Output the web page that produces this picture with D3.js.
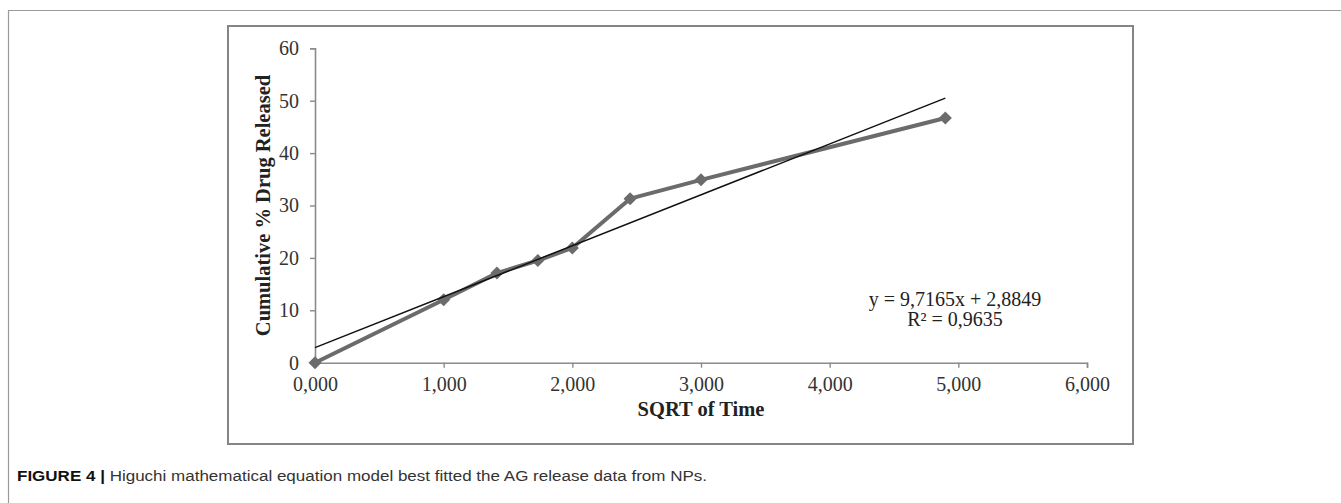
<!DOCTYPE html>
<html>
<head>
<meta charset="utf-8">
<script src="https://cdn.jsdelivr.net/npm/d3@7"></script>
<style>
  html, body { margin: 0; padding: 0; background: #fff; }
  svg { display: block; }
</style>
</head>
<body>
<svg id="chart" width="1341" height="503"></svg>
<script>
// ---- data ----
const sqrtTime = [0, 1.0, 1.414, 1.732, 2.0, 2.449, 3.0, 4.899];
const released = [0, 12.0, 17.1, 19.5, 21.9, 31.3, 34.9, 46.7];
const xTicks = [0, 1, 2, 3, 4, 5, 6];
const yTicks = [0, 10, 20, 30, 40, 50, 60];
const slope = 9.7165;
const intercept = 2.8849;
const equationLines = ["y = 9,7165x + 2,8849", "R² = 0,9635"];
const xTitle = "SQRT of Time";
const yTitle = "Cumulative % Drug Released";
const captionBold = "FIGURE 4 |";
const captionText = " Higuchi mathematical equation model best fitted the AG release data from NPs.";

const svg = d3.select("#chart");

// outer frame (top + left)
svg.append("path")
  .attr("d", "M8.5,503 L8.5,10.5 L1341,10.5")
  .attr("fill", "none").attr("stroke", "#9a9a9a").attr("stroke-width", 1.2);

// inner chart box
svg.append("rect")
  .attr("x", 228).attr("y", 26).attr("width", 905).attr("height", 418)
  .attr("fill", "#fff").attr("stroke", "#858585").attr("stroke-width", 2);

const x = d3.scaleLinear().domain([0, 6]).range([315, 1087]);
const y = d3.scaleLinear().domain([0, 60]).range([362.7, 48.3]);

const serif = "'Liberation Serif', 'Times New Roman', serif";
const fmtX = d => d3.format(".3f")(d).replace(".", ",");

// y axis
const gy = svg.append("g").attr("transform", `translate(${x(0)},0)`)
  .call(d3.axisLeft(y).tickValues(yTicks).tickSize(5).tickPadding(11).tickFormat(d3.format("d")));
gy.select(".domain").attr("stroke", "#8a8a8a").attr("stroke-width", 1.6);
gy.selectAll(".tick line").attr("stroke", "#8a8a8a").attr("stroke-width", 1.4);
gy.selectAll(".tick text").attr("font-family", serif).attr("font-size", 20).attr("fill", "#333");

// x axis
const gx = svg.append("g").attr("transform", `translate(0,${y(0)})`)
  .call(d3.axisBottom(x).tickValues(xTicks).tickSize(5).tickPadding(9).tickFormat(fmtX));
gx.select(".domain").attr("stroke", "#8a8a8a").attr("stroke-width", 1.6);
gx.selectAll(".tick line").attr("stroke", "#8a8a8a").attr("stroke-width", 1.4);
gx.selectAll(".tick text").attr("font-family", serif).attr("font-size", 20).attr("fill", "#333");

// axis titles
svg.append("text").attr("x", 701).attr("y", 416)
  .attr("text-anchor", "middle").attr("font-family", serif).attr("font-weight", "bold")
  .attr("font-size", 20.5).attr("fill", "#222").text(xTitle);
svg.append("text")
  .attr("transform", `translate(270,${(y(0) + y(60)) / 2}) rotate(-90)`)
  .attr("text-anchor", "middle").attr("font-family", serif).attr("font-weight", "bold")
  .attr("font-size", 20.5).attr("fill", "#222").text(yTitle);

// data line
const pts = sqrtTime.map((t, i) => [t, released[i]]);
svg.append("path").datum(pts)
  .attr("d", d3.line().x(d => x(d[0])).y(d => y(d[1])))
  .attr("fill", "none").attr("stroke", "#6b6b6b").attr("stroke-width", 4)
  .attr("stroke-linejoin", "round");

// diamond markers
svg.append("g").selectAll("path").data(pts).join("path")
  .attr("transform", d => `translate(${x(d[0])},${y(d[1])}) rotate(45)`)
  .attr("d", d3.symbol().type(d3.symbolSquare).size(85))
  .attr("fill", "#6b6b6b");

// linear trend line
const xEnd = sqrtTime[sqrtTime.length - 1];
svg.append("line")
  .attr("x1", x(0)).attr("y1", y(intercept))
  .attr("x2", x(xEnd)).attr("y2", y(slope * xEnd + intercept))
  .attr("stroke", "#111").attr("stroke-width", 1.5);

// equation
svg.append("g").selectAll("text").data(equationLines).join("text")
  .attr("x", 955).attr("y", (d, i) => 306 + i * 20)
  .attr("text-anchor", "middle").attr("font-family", serif)
  .attr("font-size", 20).attr("fill", "#222").text(d => d);

// caption
const cap = svg.append("text").attr("x", 17).attr("y", 481)
  .attr("font-family", "'Liberation Sans Narrow', 'Arial Narrow', 'Liberation Sans', sans-serif")
  .attr("font-size", 15.5).attr("fill", "#333")
  .attr("textLength", 690).attr("lengthAdjust", "spacingAndGlyphs");
cap.append("tspan").attr("font-weight", "bold").attr("fill", "#111").text(captionBold);
cap.append("tspan").text(captionText);
</script>
</body>
</html>
